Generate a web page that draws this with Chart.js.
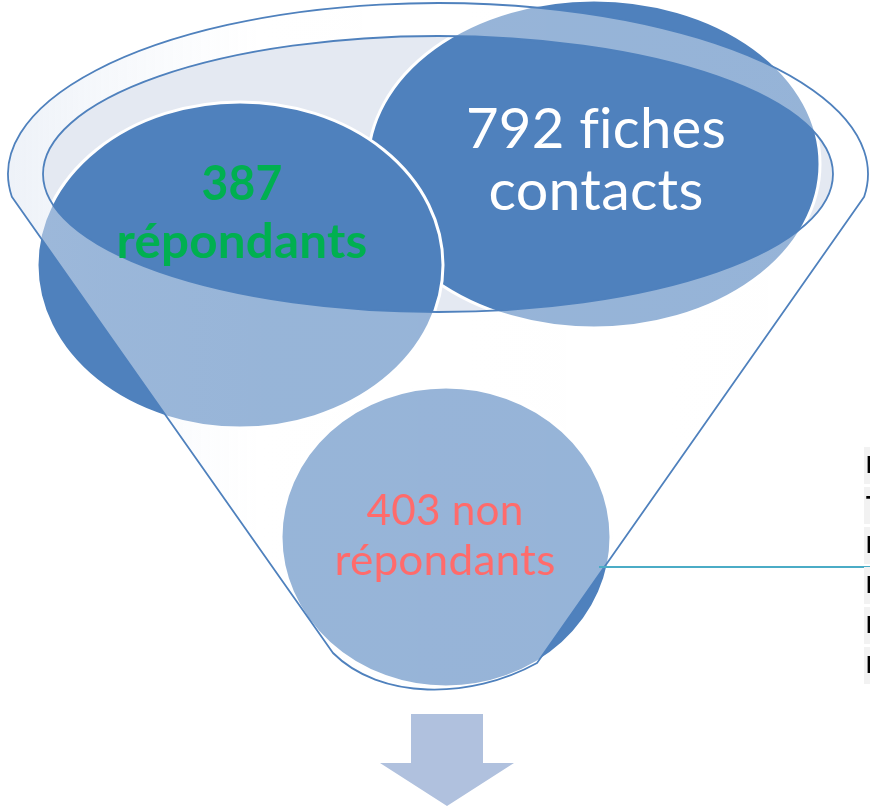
<!DOCTYPE html>
<html>
<head>
<meta charset="utf-8">
<script src="https://cdn.jsdelivr.net/npm/chart.js@4"></script>
<style>
html,body{margin:0;padding:0;background:#fff;}
#wrap{width:870px;height:810px;}
</style>
</head>
<body>
<div id="wrap"><canvas id="c" width="870" height="810"></canvas></div>
<script>
// ---- data ----
const categories = ['fiches contacts', 'répondants', 'non répondants'];
const values = [792, 387, 403];
const textLines = [['792 fiches', 'contacts'], ['387', 'répondants'], ['403 non', 'répondants']];
const tableRows = ['NPAI', 'Téléphone', 'Pas intéressé', 'Pas le temps', 'Hors cible', 'Injoignable'];

// ---- layout (diagram units, mapped through the chart scales) ----
const layout = {
  outer: {cx: 438, cy: 174, rx: 430, ry: 171},
  mouth: {cx: 438, cy: 174, rx: 395, ry: 138},
  sideL: [[12, 197], [333, 653]],
  sideR: [[864, 197], [537, 663]],
  bottomCtrl: [[470, 700], [380, 700]],
  circles: [
    {cx: 594, cy: 164, rx: 226, ry: 164},
    {cx: 240, cy: 265, rx: 203, ry: 163},
    {cx: 446, cy: 537, rx: 165, ry: 150}
  ],
  text: [
    {cx: 596, base: [148, 210], w: [260, 215], font: '57px', color: '#FFFFFF'},
    {cx: 242, base: [200, 258], w: [81, 251], font: 'bold 47px', color: '#00B050'},
    {cx: 445, base: [525, 575], w: [157, 221], font: '42px', color: '#FF6B6B'}
  ],
  connector: [[599, 567], [870, 567]],
  table: {x: 864, y0: 447, rowH: 40, h: 37},
  arrow: {shaftL: 411, shaftR: 483, top: 714, headY: 763, headL: 380, headR: 514, tip: 806}
};
const FAMILY = 'Lato, "Open Sans", "Liberation Sans", sans-serif';

const diagramPlugin = {
  id: 'funnelDiagram',
  beforeDatasetsDraw(chart) {
    const ctx = chart.ctx;
    const xs = chart.scales.x, ys = chart.scales.y;
    const X = v => xs.getPixelForValue(v);
    const Y = v => ys.getPixelForValue(v);
    const SX = v => Math.abs(xs.getPixelForValue(v) - xs.getPixelForValue(0));
    const SY = v => Math.abs(ys.getPixelForValue(v) - ys.getPixelForValue(0));
    const ell = (e) => { ctx.ellipse(X(e.cx), Y(e.cy), SX(e.rx), SY(e.ry), 0, 0, Math.PI * 2); };

    const o = layout.outer;
    const angL = Math.PI - Math.asin((layout.sideL[0][1] - o.cy) / o.ry);
    const angR = Math.asin((layout.sideR[0][1] - o.cy) / o.ry);
    const funnelPath = () => {
      ctx.moveTo(X(layout.sideL[0][0]), Y(layout.sideL[0][1]));
      ctx.ellipse(X(o.cx), Y(o.cy), SX(o.rx), SY(o.ry), 0, angL, angR + Math.PI * 2, false);
      ctx.lineTo(X(layout.sideR[0][0]), Y(layout.sideR[0][1]));
      ctx.lineTo(X(layout.sideR[1][0]), Y(layout.sideR[1][1]));
      const c = layout.bottomCtrl;
      ctx.bezierCurveTo(X(c[0][0]), Y(c[0][1]), X(c[1][0]), Y(c[1][1]), X(layout.sideL[1][0]), Y(layout.sideL[1][1]));
      ctx.closePath();
    };

    ctx.save();
    // mouth fill
    ctx.beginPath(); ell(layout.mouth); ctx.fillStyle = '#E4E9F2'; ctx.fill();

    // circles (one per category)
    categories.forEach((cat, i) => {
      const c = layout.circles[i];
      ctx.beginPath(); ell(c);
      ctx.fillStyle = '#4F81BD'; ctx.fill();
      ctx.lineWidth = 3; ctx.strokeStyle = '#FFFFFF'; ctx.stroke();
    });

    // funnel body overlay (outline minus mouth)
    ctx.beginPath(); funnelPath();
    const m = layout.mouth;
    ctx.moveTo(X(m.cx + m.rx), Y(m.cy));
    ctx.ellipse(X(m.cx), Y(m.cy), SX(m.rx), SY(m.ry), 0, 0, Math.PI * 2);
    const g = ctx.createLinearGradient(X(0), 0, X(870), 0);
    g.addColorStop(0, 'rgba(222,230,242,0.55)');
    g.addColorStop(0.12, 'rgba(236,241,248,0.48)');
    g.addColorStop(0.3, 'rgba(255,255,255,0.41)');
    g.addColorStop(1, 'rgba(255,255,255,0.40)');
    ctx.fillStyle = g;
    ctx.fill('evenodd');

    // outlines
    ctx.lineWidth = 1.8; ctx.strokeStyle = '#4F81BD'; ctx.lineJoin = 'round';
    ctx.beginPath(); funnelPath(); ctx.stroke();
    ctx.beginPath(); ell(layout.mouth); ctx.stroke();

    // texts
    ctx.textAlign = 'center'; ctx.textBaseline = 'alphabetic';
    if ('letterSpacing' in ctx) ctx.letterSpacing = '0.2px';
    categories.forEach((cat, i) => {
      const t = layout.text[i];
      textLines[i].forEach((line, j) => {
        ctx.font = t.font + ' ' + FAMILY;
        const w = ctx.measureText(line).width;
        const s = t.w[j] / w;
        ctx.save();
        ctx.translate(X(t.cx), Y(t.base[j]));
        ctx.scale(s, 1);
        ctx.fillStyle = t.color;
        ctx.fillText(line, 0, 0);
        ctx.restore();
      });
    });
    if ('letterSpacing' in ctx) ctx.letterSpacing = '0px';

    // connector
    ctx.beginPath();
    ctx.moveTo(X(layout.connector[0][0]), Y(layout.connector[0][1]));
    ctx.lineTo(X(layout.connector[1][0]), Y(layout.connector[1][1]));
    ctx.lineWidth = 2; ctx.strokeStyle = '#4BACC6'; ctx.stroke();

    // clipped table at right edge
    const tb = layout.table;
    tableRows.forEach((r, i) => {
      const y = tb.y0 + i * tb.rowH;
      ctx.fillStyle = '#F2F2F2';
      ctx.fillRect(X(tb.x), Y(y), SX(870 - tb.x) + 10, SY(tb.h));
      ctx.fillStyle = '#000000';
      ctx.font = 'bold 24px "Liberation Sans", Arial, sans-serif';
      ctx.textAlign = 'left'; ctx.textBaseline = 'middle';
      ctx.fillText(r, X(tb.x + 2), Y(y + tb.h / 2 + 1));
    });

    // down arrow
    const a = layout.arrow;
    ctx.beginPath();
    ctx.moveTo(X(a.shaftL), Y(a.top));
    ctx.lineTo(X(a.shaftR), Y(a.top));
    ctx.lineTo(X(a.shaftR), Y(a.headY));
    ctx.lineTo(X(a.headR), Y(a.headY));
    ctx.lineTo(X((a.headL + a.headR) / 2), Y(a.tip));
    ctx.lineTo(X(a.headL), Y(a.headY));
    ctx.lineTo(X(a.shaftL), Y(a.headY));
    ctx.closePath();
    ctx.fillStyle = '#B0C1DE'; ctx.fill();
    ctx.restore();
  }
};

new Chart(document.getElementById('c'), {
  type: 'scatter',
  data: { datasets: [{ label: 'values', data: [], pointRadius: 0 }] },
  options: {
    responsive: false,
    animation: false,
    layout: { padding: 0 },
    plugins: { legend: { display: false }, tooltip: { enabled: false }, title: { display: false } },
    scales: {
      x: { type: 'linear', min: 0, max: 870, display: false },
      y: { type: 'linear', min: 0, max: 810, reverse: true, display: false }
    }
  },
  plugins: [diagramPlugin]
});
</script>
</body>
</html>
